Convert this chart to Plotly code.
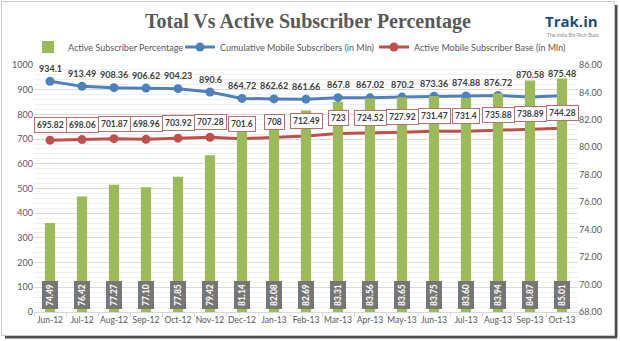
import plotly.graph_objects as go

months = ["Jun-12", "Jul-12", "Aug-12", "Sep-12", "Oct-12", "Nov-12", "Dec-12", "Jan-13", "Feb-13",
          "Mar-13", "Apr-13", "May-13", "Jun-13", "Jul-13", "Aug-13", "Sep-13", "Oct-13"]
active_pct = [74.49, 76.42, 77.27, 77.10, 77.85, 79.42, 81.14, 82.08, 82.69,
              83.31, 83.56, 83.65, 83.75, 83.60, 83.94, 84.87, 85.01]
cumulative = [934.1, 913.49, 908.36, 906.62, 904.23, 890.6, 864.72, 862.62, 861.66,
              867.8, 867.02, 870.2, 873.36, 874.88, 876.72, 870.58, 875.48]
active_base = [695.82, 698.06, 701.87, 698.96, 703.92, 707.28, 701.6, 708, 712.49,
               723, 724.52, 727.92, 731.47, 731.4, 735.88, 738.89, 744.28]

W, H = 620, 341
ML, MR, MT, MB = 34, 42, 65, 29
PW, PH = W - ML - MR, H - MT - MB

def px(x):
    return (x - ML) / PW

def py(y):
    return (H - MB - y) / PH

GREEN = "#9bbb59"
BLUE = "#4f81bd"
RED = "#c0504d"
TXT = "#595959"
LBL = "#404040"
FONT = "Lato"

fig = go.Figure()

fig.add_trace(go.Bar(
    x=months, y=active_pct, name="Active Subscriber Percentage", legend="legend",
    marker=dict(color=GREEN, line=dict(width=0)), width=0.32, yaxis="y2",
))
fig.add_trace(go.Scatter(
    x=months, y=cumulative, name="Cumulative Mobile Subscribers (in Mln)", legend="legend2",
    mode="lines+markers",
    line=dict(color=BLUE, width=3), marker=dict(color=BLUE, size=9),
))
fig.add_trace(go.Scatter(
    x=months, y=active_base, name="Active Mobile Subscriber Base (in Mln)", legend="legend3",
    mode="lines+markers",
    line=dict(color=RED, width=3), marker=dict(color=RED, size=9),
))

annotations = []
n = len(months)
for i, (m, v) in enumerate(zip(months, cumulative)):
    # last two labels are lifted above the taller bars, as in the original
    shift = 22 if i >= n - 2 else 13
    annotations.append(dict(
        x=m, y=v, xref="x", yref="y", text=f"<b>{v:g}</b>", showarrow=False,
        yshift=shift, font=dict(family=FONT, size=9, color=LBL),
    ))
for m, v in zip(months, active_base):
    annotations.append(dict(
        x=m, y=v, xref="x", yref="y", text=f"<b>{v:g}</b>", showarrow=False,
        yshift=15, bgcolor="white", bordercolor="#b8706e", borderwidth=1, borderpad=2,
        font=dict(family=FONT, size=8.5, color=LBL),
    ))
for m, v in zip(months, active_pct):
    annotations.append(dict(
        x=m, y=68, xref="x", yref="y2", text=f"<b>{v:.2f}</b>", showarrow=False,
        yanchor="bottom", yshift=2, textangle=-90, bgcolor="#767676", borderpad=2.5,
        font=dict(family=FONT, size=8.5, color="white"),
    ))

annotations.append(dict(
    x=px(308), y=py(21), xref="paper", yref="paper", showarrow=False,
    xanchor="center", yanchor="middle",
    text="<b>Total Vs Active Subscriber Percentage</b>",
    font=dict(family="Liberation Serif", size=20, color=TXT),
))
annotations.append(dict(
    x=px(571), y=py(21), xref="paper", yref="paper", showarrow=False,
    xanchor="center", yanchor="middle",
    text="<b>Trak.in</b>", font=dict(family="Open Sans", size=15, color="#1f4e79"),
))
annotations.append(dict(
    x=px(573), y=py(35), xref="paper", yref="paper", showarrow=False,
    xanchor="center", yanchor="middle",
    text="The India Biz-Tech Buzz", font=dict(family=FONT, size=5, color="#8c8c8c"),
))

shapes = [
    dict(type="line", xref="paper", yref="paper", x0=px(5), x1=px(617), y0=py(337), y1=py(337),
         line=dict(color="#4d4d4d", width=3)),
    dict(type="line", xref="paper", yref="paper", x0=px(616), x1=px(616), y0=py(5), y1=py(337),
         line=dict(color="#4d4d4d", width=3)),
    dict(type="rect", xref="paper", yref="paper", x0=px(1.5), x1=px(614.5), y0=py(1.5), y1=py(335.5),
         line=dict(color="#c8c8c8", width=1)),
]

leg_common = dict(orientation="h", yanchor="middle", xanchor="left", y=py(47),
                  font=dict(family=FONT, size=9, color=TXT), itemwidth=30,
                  bgcolor="rgba(0,0,0,0)", borderwidth=0)

fig.update_layout(
    width=W, height=H,
    margin=dict(l=ML, r=MR, t=MT, b=MB, autoexpand=False),
    paper_bgcolor="white", plot_bgcolor="white",
    font=dict(family=FONT, size=9, color=TXT),
    showlegend=True,
    legend=dict(leg_common, x=px(28)),
    legend2=dict(leg_common, x=px(180)),
    legend3=dict(leg_common, x=px(374)),
    xaxis=dict(range=[-0.5, n - 0.5], showline=True, linecolor="#d9d9d9", ticks="outside",
               tickson="boundaries", ticklen=4, tickcolor="#d9d9d9", showgrid=False,
               tickangle=0, automargin=False,
               tickfont=dict(family=FONT, size=8.5, color=TXT)),
    yaxis=dict(range=[0, 1000], dtick=100, showgrid=True, gridcolor="#d9d9d9", gridwidth=1,
               minor=dict(dtick=20, showgrid=True, gridcolor="#f0f0f0"), automargin=False,
               zeroline=False, ticks="", tickfont=dict(family=FONT, size=9, color=TXT)),
    yaxis2=dict(range=[68, 86], dtick=2, overlaying="y", side="right", showgrid=False,
                zeroline=False, tickformat=".2f", ticks="", automargin=False,
                tickfont=dict(family=FONT, size=9, color=TXT)),
    annotations=annotations,
    shapes=shapes,
    bargap=0.7,
)

fig.write_html("out.html")
